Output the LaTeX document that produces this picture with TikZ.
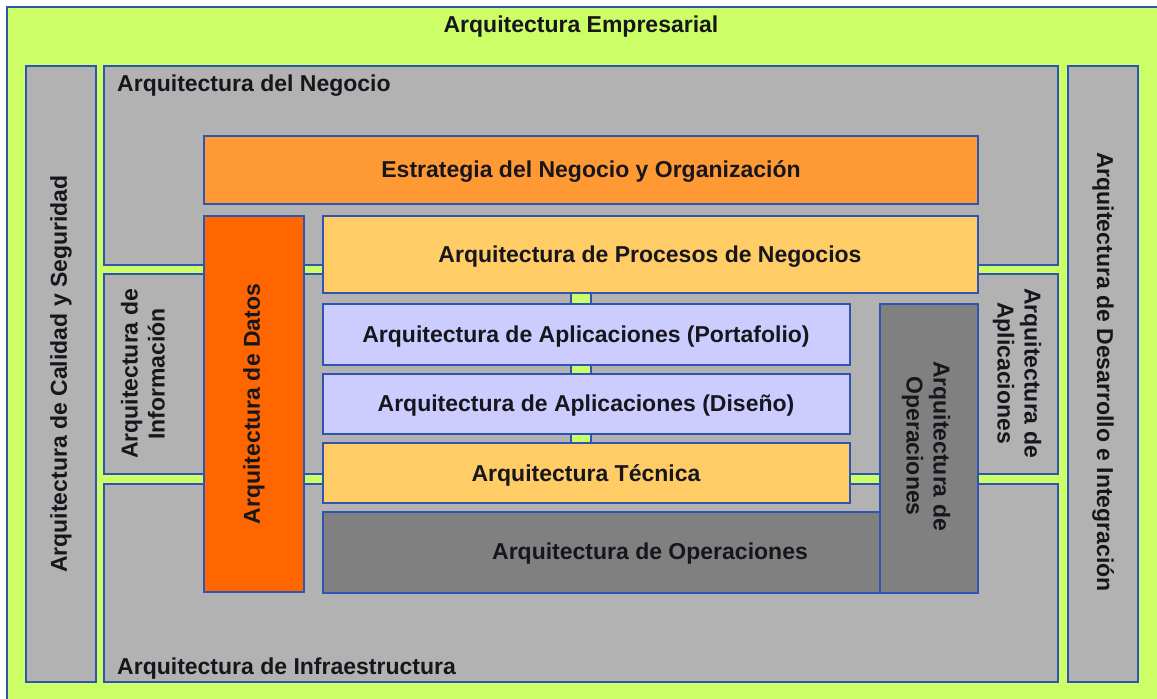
\documentclass[tikz,border=0pt]{standalone}
\usepackage{fontspec}
\setmainfont{Liberation Sans}
\definecolor{bggreen}{HTML}{CCFF66}
\definecolor{gbox}{HTML}{B2B2B2}
\definecolor{bordblue}{HTML}{2E55B4}
\definecolor{orA}{HTML}{FF9933}
\definecolor{orB}{HTML}{FF6600}
\definecolor{orC}{HTML}{FFCC66}
\definecolor{lav}{HTML}{CCCCFF}
\definecolor{dgray}{HTML}{808080}
\definecolor{txt}{HTML}{16161C}
\tikzset{
  blk/.style={draw=bordblue, line width=1.4pt},
  lbl/.style={text=txt, font=\bfseries\fontsize{23}{27}\selectfont, inner sep=0pt, align=center},
}
\begin{document}
\begin{tikzpicture}[x=1pt,y=-1pt]
\useasboundingbox (0,0) rectangle (1157,699);
\fill[white] (0,0) rectangle (1157,699);
\begin{scope}
\clip (0,0) rectangle (1157,699);
\draw[blk, fill=bggreen] (7,7) rectangle (1170,712);
\end{scope}
% columns and bands
\draw[blk, fill=gbox] (26,66) rectangle (96,682);
\draw[blk, fill=gbox] (1068,66) rectangle (1138,682);
\draw[blk, fill=gbox] (104,66) rectangle (1058,265);
\draw[blk, fill=gbox] (104,274) rectangle (571,474);
\draw[blk, fill=gbox] (591,274) rectangle (1058,474);
\draw[blk, fill=gbox] (104,484) rectangle (1058,682);
% inner blocks
\draw[blk, fill=orA] (204,136) rectangle (978,204);
\draw[blk, fill=orB] (204,216) rectangle (304,592);
\draw[blk, fill=orC] (323,216) rectangle (978,293);
\draw[blk, fill=lav] (323,304) rectangle (850,365);
\draw[blk, fill=lav] (323,374) rectangle (850,434);
\draw[blk, fill=orC] (323,443) rectangle (850,503);
\draw[blk, fill=dgray] (323,512) rectangle (880,593);
\draw[blk, fill=dgray] (880,304) rectangle (978,593);
% labels
\node[lbl] (tEmp) at (581,27) {Arquitectura Empresarial};
\node[lbl, anchor=base west] (tNeg) at (117,91) {Arquitectura del Negocio};
\node[lbl, anchor=base west] (tInf) at (117,674) {Arquitectura de Infraestructura};
\node[lbl, rotate=90] (tCal) at (61,374) {Arquitectura de Calidad y Seguridad};
\node[lbl, rotate=-90] (tDes) at (1103,372) {Arquitectura de Desarrollo e Integración};
\node[lbl, rotate=90] (tInfo) at (143,374) {Arquitectura de\\Información};
\node[lbl, rotate=-90] (tApl) at (1017,373) {Arquitectura de\\Aplicaciones};
\node[lbl] (tEst) at (591,172) {Estrategia del Negocio y Organización};
\node[lbl, rotate=90] (tDat) at (254,404) {Arquitectura de Datos};
\node[lbl] (tPro) at (650,257) {Arquitectura de Procesos de Negocios};
\node[lbl] (tPor) at (586,337) {Arquitectura de Aplicaciones (Portafolio)};
\node[lbl] (tDis) at (586,406) {Arquitectura de Aplicaciones (Diseño)};
\node[lbl] (tTec) at (586,475) {Arquitectura Técnica};
\node[lbl] (tOpH) at (650,554) {Arquitectura de Operaciones};
\node[lbl, rotate=-90] (tOpV) at (926,446) {Arquitectura de\\Operaciones};
\end{tikzpicture}
\end{document}
